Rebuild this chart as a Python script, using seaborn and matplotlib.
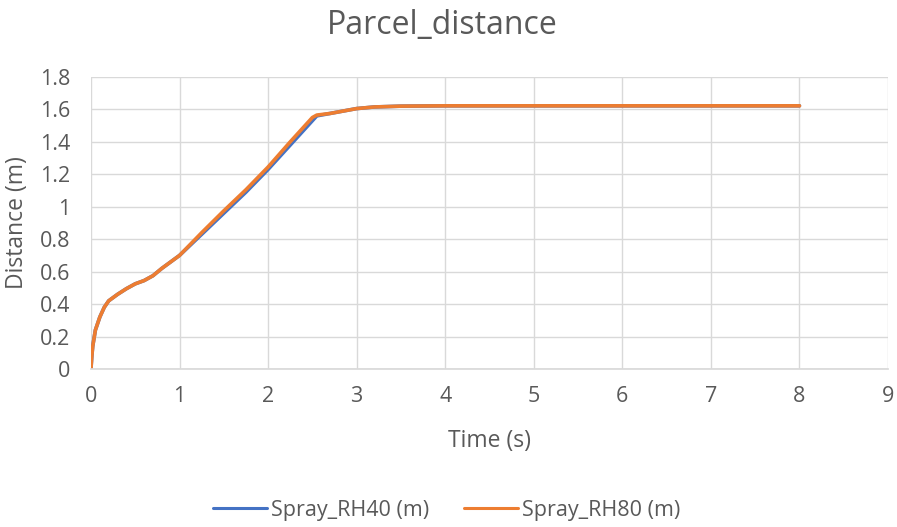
import matplotlib
matplotlib.use("Agg")
import matplotlib.pyplot as plt
import seaborn as sns
import pandas as pd

time_rh40 = [0, 0.01, 0.02, 0.05, 0.1, 0.15, 0.2, 0.3, 0.4, 0.5, 0.6, 0.7, 0.8, 1.0, 1.25, 1.5, 1.75, 2.0, 2.25, 2.5, 2.55, 2.7, 2.8, 3.0, 3.2, 3.5, 4.0, 5.0, 6.0, 7.0, 8.0]
dist_rh40 = [0, 0.08, 0.14, 0.24, 0.32, 0.38, 0.42, 0.46, 0.495, 0.525, 0.545, 0.575, 0.62, 0.7, 0.83, 0.96, 1.09, 1.23, 1.38, 1.53, 1.56, 1.575, 1.585, 1.605, 1.615, 1.62, 1.622, 1.622, 1.622, 1.622, 1.622]
time_rh80 = [0, 0.01, 0.02, 0.05, 0.1, 0.15, 0.2, 0.3, 0.4, 0.5, 0.6, 0.7, 0.8, 1.0, 1.25, 1.5, 1.75, 2.0, 2.25, 2.5, 2.55, 2.7, 2.8, 3.0, 3.2, 3.5, 4.0, 5.0, 6.0, 7.0, 8.0]
dist_rh80 = [0, 0.08, 0.14, 0.24, 0.32, 0.38, 0.42, 0.46, 0.495, 0.525, 0.545, 0.575, 0.62, 0.7, 0.84, 0.975, 1.105, 1.245, 1.4, 1.55, 1.565, 1.575, 1.585, 1.605, 1.615, 1.62, 1.622, 1.622, 1.622, 1.622, 1.622]
series_names = ["Spray_RH40 (m)", "Spray_RH80 (m)"]
x_ticks = [0, 1, 2, 3, 4, 5, 6, 7, 8, 9]
y_ticks = [0, 0.2, 0.4, 0.6, 0.8, 1, 1.2, 1.4, 1.6, 1.8]
y_tick_labels = ["0", "0.2", "0.4", "0.6", "0.8", "1", "1.2", "1.4", "1.6", "1.8"]

df = pd.concat([
    pd.DataFrame({"Time": time_rh40, "Distance": dist_rh40, "Series": series_names[0]}),
    pd.DataFrame({"Time": time_rh80, "Distance": dist_rh80, "Series": series_names[1]}),
])

sns.set_theme(style="whitegrid")
plt.rcParams['font.family'] = ['Open Sans', 'DejaVu Sans']
text_color = "#595959"

fig = plt.figure(figsize=(8.97, 5.27), dpi=100)
ax = fig.add_axes([0.1014, 0.2998, 0.8886, 0.5542])
sns.lineplot(data=df, x="Time", y="Distance", hue="Series", sort=False,
             palette=["#4472C4", "#ED7D31"], linewidth=2.6, ax=ax, estimator=None)

ax.set_xlim(0, 9)
ax.set_ylim(0, 1.8)
ax.set_xticks(x_ticks)
ax.set_yticks(y_ticks)
ax.set_yticklabels(y_tick_labels)
ax.grid(True, color="#d9d9d9", linewidth=1)
for s in ["top", "right", "left"]:
    ax.spines[s].set_visible(False)
ax.spines["bottom"].set_color("#d9d9d9")
ax.tick_params(axis="both", colors=text_color, labelsize=15.5, length=0)
ax.tick_params(axis="x", pad=12)
ax.tick_params(axis="y", pad=15)
ax.set_xlabel("Time (s)", color=text_color, fontsize=16.5, labelpad=16)
ax.set_ylabel("Distance (m)", color=text_color, fontsize=16.5, labelpad=8)
fig.suptitle("Parcel_distance", x=0.493, y=0.982, fontsize=23, color=text_color)

handles, labels = ax.get_legend_handles_labels()
for h in handles:
    h.set_linewidth(2.2)
ax.legend(handles, labels, loc="center", bbox_to_anchor=(0.498, 0.032), bbox_transform=fig.transFigure,
          ncol=2, frameon=False, fontsize=15.5, labelcolor=text_color, handlelength=2.5,
          handletextpad=0.2, columnspacing=1.6)

fig.savefig("out.png", dpi=100)
